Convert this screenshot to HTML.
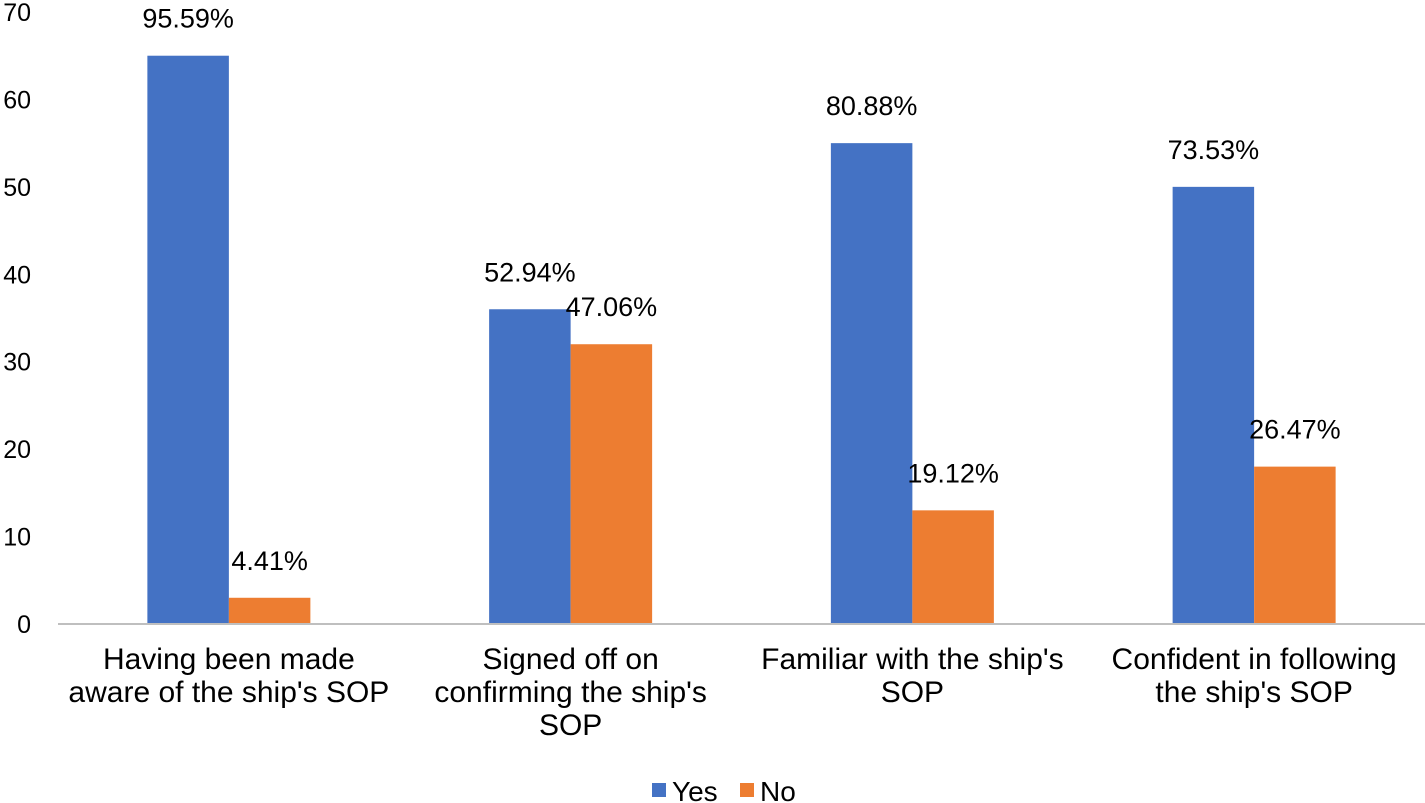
<!DOCTYPE html>
<html><head><meta charset="utf-8"><style>
html,body{margin:0;padding:0;background:#fff;}
svg{display:block;font-family:"Liberation Sans","Noto Sans CJK SC",sans-serif;}
</style></head><body>
<svg id="chart" width="1425" height="803" viewBox="0 0 1425 803"></svg>
<script>
const categories = [["Having been made","aware of the ship's SOP"],["Signed off on","confirming the ship's","SOP"],["Familiar with the ship's","SOP"],["Confident in following","the ship's SOP"]];
const yesValues = [65, 36, 55, 50];
const noValues = [3, 32, 13, 18];
const yesLabels = ["95.59%","52.94%","80.88%","73.53%"];
const noLabels = ["4.41%","47.06%","19.12%","26.47%"];
const yTicks = [0,10,20,30,40,50,60,70];

const NS="http://www.w3.org/2000/svg";
const svg=document.getElementById('chart');
const x0=58, x1=1425, y0=624, yTop=12, yMax=70;
const bandW=(x1-x0)/categories.length;
const barW=81.5;
function yScale(v){return y0-(v/yMax)*(y0-yTop);}
function mk(t,a){const e=document.createElementNS(NS,t);for(const k in a)e.setAttribute(k,a[k]);svg.appendChild(e);return e;}

yTicks.forEach(t=>{
  const e=mk('text',{x:31,y:yScale(t)+9,'text-anchor':'end','font-size':25,fill:'#000'});
  e.textContent=t;
  
  
});

categories.forEach((c,i)=>{
  const cx=x0+bandW*(i+0.5);
  const yb=mk('rect',{x:cx-barW,y:yScale(yesValues[i]),width:barW,height:y0-yScale(yesValues[i]),fill:'#4472C4'});
  
  
  const nb=mk('rect',{x:cx,y:yScale(noValues[i]),width:barW,height:y0-yScale(noValues[i]),fill:'#ED7D31'});
  
  
  const yl=mk('text',{x:cx-barW/2,y:yScale(yesValues[i])-28,'text-anchor':'middle','font-size':27,fill:'#000'});
  yl.textContent=yesLabels[i];
  
  
  const nl=mk('text',{x:cx+barW/2,y:yScale(noValues[i])-28,'text-anchor':'middle','font-size':27,fill:'#000'});
  nl.textContent=noLabels[i];
  
  
  c.forEach((line,j)=>{
    const t=mk('text',{x:cx,y:669+j*33,'text-anchor':'middle','font-size':30,fill:'#000'});
    t.textContent=line;
    
    
  });
});

const ax=mk('line',{x1:x0,x2:x1,y1:y0,y2:y0,stroke:'#BFBFBF','stroke-width':2});



const l1=mk('rect',{x:652,y:783,width:14,height:14,fill:'#4472C4'});


const t1=mk('text',{x:672,y:801,'font-size':28,fill:'#000'});t1.textContent='Yes';


const l2=mk('rect',{x:740,y:783,width:14,height:14,fill:'#ED7D31'});


const t2=mk('text',{x:760,y:801,'font-size':28,fill:'#000'});t2.textContent='No';


</script>
</body></html>
